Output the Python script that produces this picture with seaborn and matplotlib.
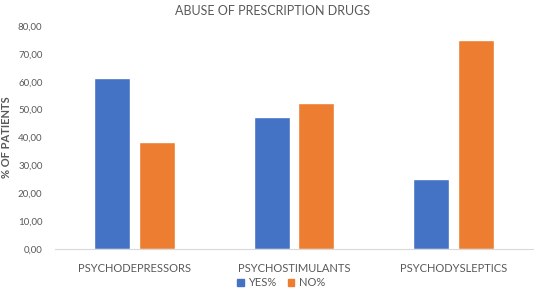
import matplotlib
matplotlib.use("Agg")
import matplotlib.pyplot as plt
import seaborn as sns
import pandas as pd
from matplotlib.ticker import FuncFormatter, MultipleLocator
from matplotlib.patches import Patch

categories = ["PSYCHODEPRESSORS", "PSYCHOSTIMULANTS", "PSYCHODYSLEPTICS"]
series_names = ["YES%", "NO%"]
yes_values = [61.5, 47.5, 25.0]
no_values = [38.5, 52.5, 75.0]
colors = ["#4472C4", "#ED7D31"]

df = pd.DataFrame({
    "category": categories * 2,
    "series": [series_names[0]] * 3 + [series_names[1]] * 3,
    "value": yes_values + no_values,
})

sns.set_theme(style="white")
plt.rcParams['font.family'] = ['Lato', 'DejaVu Sans']
text_color = "#595959"

fig = plt.figure(figsize=(5.36, 2.95), dpi=100)
ax = fig.add_axes([55/536, 46/295, 478/536, 223/295])
sns.barplot(data=df, x="category", y="value", hue="series", palette=colors,
            width=0.564, gap=0.2, ax=ax, legend=False, saturation=1)

ax.set_xlim(-0.5, 2.5)
ax.set_ylim(0, 80)
ax.yaxis.set_major_locator(MultipleLocator(10))
ax.yaxis.set_major_formatter(FuncFormatter(lambda v, p: f"{v:.2f}".replace(".", ",")))
for s in ["top", "right", "left"]:
    ax.spines[s].set_visible(False)
ax.spines["bottom"].set_color("#D9D9D9")
ax.spines["bottom"].set_linewidth(0.8)
ax.tick_params(axis="y", length=0, labelsize=7, labelcolor=text_color, pad=9)
ax.tick_params(axis="x", length=0, labelsize=8, labelcolor=text_color, pad=10)
ax.set_xlabel("")
ax.set_ylabel("")
fig.text(7/536, 1 - 137/295, "% OF PATIENTS", rotation=90, ha="center", va="center",
         fontsize=8, color=text_color, fontweight="bold")
fig.text(273/536, 1 - 11/295, "ABUSE OF PRESCRIPTION DRUGS", ha="center", va="center",
         fontsize=9, color=text_color)

handles = [Patch(facecolor=c, edgecolor=c) for c in colors]
fig.legend(handles, series_names, loc="center", bbox_to_anchor=(281/536, 1 - 283/295),
           ncol=2, frameon=False, fontsize=8, labelcolor=text_color,
           handlelength=0.6, handleheight=0.6, handletextpad=0.4, columnspacing=1.0)

fig.savefig("out.png", dpi=100)
